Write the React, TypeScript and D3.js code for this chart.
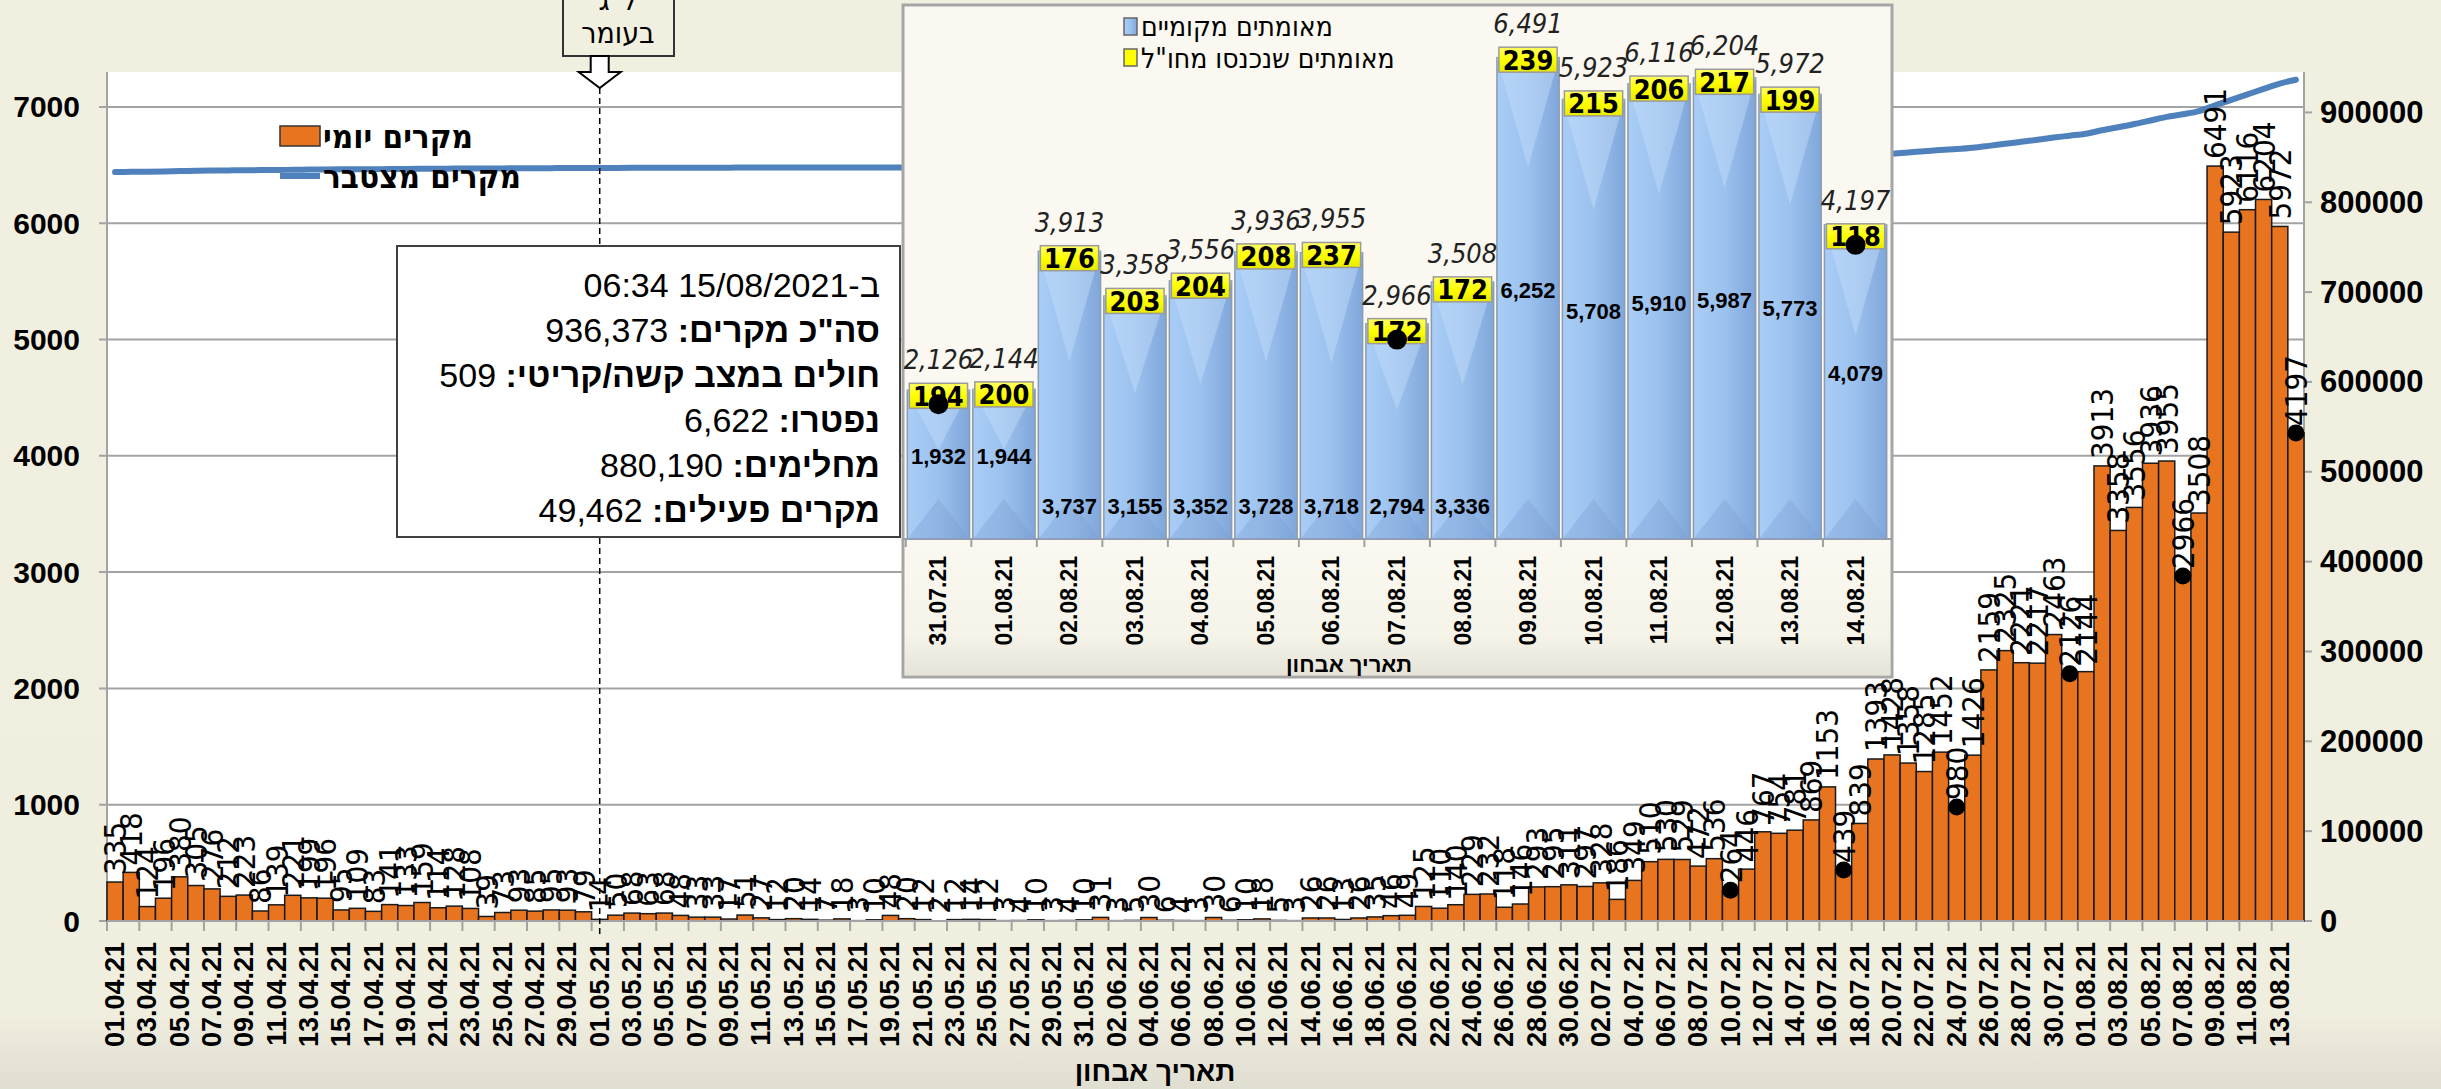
import * as d3 from "d3";

// daily confirmed cases, 01.04.21 - 14.08.21
const aprilCases = [335, 418, 124, 196, 380, 305, 276, 212, 223, 86, 139, 221, 199, 196, 95, 109, 83, 141, 133, 159, 114, 128, 108, 39, 73, 93, 85, 95, 93, 79];
const mayCases = [14, 50, 68, 63, 68, 48, 33, 33, 17, 51, 27, 12, 20, 14, 7, 18, 3, 10, 48, 20, 12, 2, 12, 14, 12, 3, 4, 10, 3, 4, 10];
const juneCases = [31, 3, 5, 30, 6, 4, 3, 30, 6, 10, 18, 5, 3, 26, 26, 13, 26, 35, 46, 49, 125, 110, 140, 229, 232, 118, 146, 293, 295, 311];
const julyCases = [297, 328, 186, 349, 510, 530, 529, 472, 536, 264, 446, 767, 754, 781, 869, 1153, 439, 839, 1393, 1428, 1358, 1285, 1452, 980, 1426, 2159, 2325, 2221, 2217, 2463, 2126];
const augustCases = [2144, 3913, 3358, 3556, 3936, 3955, 2966, 3508, 6491, 5923, 6116, 6204, 5972, 4197];
const dailyCases = [...aprilCases, ...mayCases, ...juneCases, ...julyCases, ...augustCases];

const fmtDay = d3.timeFormat("%d.%m.%y");
const dates = d3.timeDay.range(new Date(2021, 3, 1), new Date(2021, 7, 15)).map(fmtDay);

// total as of 15/08 (cumulative line ends here)
const totalCases = 936373;
const markedDays = ["10.07.21", "17.07.21", "24.07.21", "31.07.21", "07.08.21", "14.08.21"];
const lagBaomerDay = "01.05.21";

const leftTicks = [0, 1000, 2000, 3000, 4000, 5000, 6000, 7000];
const rightTicks = [0, 100000, 200000, 300000, 400000, 500000, 600000, 700000, 800000, 900000];

// inset: last 15 days split by origin
const insetDates = ["31.07.21", "01.08.21", "02.08.21", "03.08.21", "04.08.21", "05.08.21", "06.08.21", "07.08.21", "08.08.21", "09.08.21", "10.08.21", "11.08.21", "12.08.21", "13.08.21", "14.08.21"];
const localCases = [1932, 1944, 3737, 3155, 3352, 3728, 3718, 2794, 3336, 6252, 5708, 5910, 5987, 5773, 4079];
const abroadCases = [194, 200, 176, 203, 204, 208, 237, 172, 172, 239, 215, 206, 217, 199, 118];
const insetMarked = ["31.07.21", "07.08.21", "14.08.21"];

const infoLines = [
  ["", "ב-15/08/2021 06:34"],
  ["סה\"כ מקרים:", " 936,373"],
  ["חולים במצב קשה/קריטי:", " 509"],
  ["נפטרו:", " 6,622"],
  ["מחלימים:", " 880,190"],
  ["מקרים פעילים:", " 49,462"],
];

const W = 2441, H = 1089;
const PL = 107, PR = 2304, PT = 72, PB = 921;

const narrow = "'Liberation Sans Narrow', 'DejaVu Sans Condensed', 'Liberation Sans', sans-serif";
const sans = "'Liberation Sans', Arial, sans-serif";
const fmt = d3.format(",");

function Inset() {
  const X0 = 903, Y0 = 5, X1 = 1892, Y1 = 677, BASE = 539;
  const ix = d3.scaleBand<string>().domain(insetDates).range([906, 1888]).paddingInner(0.05).paddingOuter(0.02);
  const iy = d3.scaleLinear().domain([0, 7000]).range([BASE, 0]);
  const bw = ix.bandwidth();
  const rows = insetDates.map((d, i) => ({ d, local: localCases[i], abroad: abroadCases[i], total: localCases[i] + abroadCases[i] }));
  return (
    <g>
      <defs>
        <linearGradient id="blueBar" x1="0" x2="1" y1="0" y2="0">
          <stop offset="0" stopColor="#A9CDF6" />
          <stop offset="0.5" stopColor="#9BC1EE" />
          <stop offset="1" stopColor="#80A7DA" />
        </linearGradient>
        <linearGradient id="yellowBox" x1="0" x2="0" y1="0" y2="1">
          <stop offset="0" stopColor="#FFFF66" />
          <stop offset="0.5" stopColor="#FFFF00" />
          <stop offset="1" stopColor="#E8E800" />
        </linearGradient>
        <linearGradient id="insetFoot" x1="0" x2="0" y1="0" y2="1">
          <stop offset="0" stopColor="#FAF8F0" />
          <stop offset="0.7" stopColor="#F6F3E9" />
          <stop offset="1" stopColor="#E6E3D8" />
        </linearGradient>
      </defs>
      <rect x={X0} y={Y0} width={X1 - X0} height={Y1 - Y0} fill="#FAF8F0" stroke="#A6A6A6" strokeWidth={3} />
      <rect x={X0 + 2} y={BASE} width={X1 - X0 - 4} height={Y1 - BASE - 2} fill="url(#insetFoot)" />
      <line x1={X0} x2={X1} y1={BASE} y2={BASE} stroke="#A0A0A0" strokeWidth={2} />
      {insetDates.map((d) => (
        <line key={"t" + d} x1={(ix(d) ?? 0) - 1.5} x2={(ix(d) ?? 0) - 1.5} y1={BASE} y2={BASE + 8} stroke="#A0A0A0" strokeWidth={2} />
      ))}
      {rows.map((r) => {
        const x0 = ix(r.d) ?? 0;
        const top = iy(r.local);
        const h = BASE - top;
        return (
          <g key={r.d}>
            <rect x={x0} y={top} width={bw} height={h} fill="url(#blueBar)" stroke="#8C9BB0" strokeWidth={1.5} />
            <polygon points={`${x0},${top} ${x0 + bw},${top} ${x0 + bw / 2},${top + Math.min(h * 0.4, 110)}`} fill="#C6DEFA" opacity={0.45} />
            <polygon points={`${x0},${BASE} ${x0 + bw / 2},${BASE - 40} ${x0 + bw},${BASE}`} fill="#7C9FD2" opacity={0.35} />
          </g>
        );
      })}
      {rows.map((r) => {
        const x0 = ix(r.d) ?? 0;
        const c = x0 + bw / 2;
        const top = iy(r.total);
        const boxTop = top + 8;
        const lblY = r.local > 2500 && r.local < 4000 ? BASE - 33 : (iy(r.local) + BASE) / 2 - 8;
        return (
          <g key={"l" + r.d}>
            <rect x={x0 + 2} y={boxTop} width={bw - 4} height={25} fill="url(#yellowBox)" stroke="#9A9A9A" strokeWidth={1.5} />
            <text x={c} y={boxTop + 13} textAnchor="middle" dominantBaseline="central" fontFamily={narrow} fontWeight="bold" fontSize={27}>{r.abroad}</text>
            <text x={c} y={top - 6} textAnchor="middle" fontFamily={narrow} fontStyle="italic" fontSize={27} fill="#222">{fmt(r.total)}</text>
            <text x={c} y={lblY} textAnchor="middle" dominantBaseline="central" fontFamily={sans} fontWeight="bold" fontSize={22}>{fmt(r.local)}</text>
          </g>
        );
      })}
      {insetMarked.map((d) => (
        <circle key={"m" + d} cx={(ix(d) ?? 0) + bw / 2} cy={iy(localCases[insetDates.indexOf(d)] + abroadCases[insetDates.indexOf(d)]) + 29} r={10} fill="#000" />
      ))}
      {insetDates.map((d) => (
        <text key={"x" + d} transform={`translate(${(ix(d) ?? 0) + bw / 2},556) rotate(-90)`} textAnchor="end" dominantBaseline="central" fontFamily={sans} fontWeight="bold" fontSize={23}>{d}</text>
      ))}
      <text x={1349} y={664} textAnchor="middle" dominantBaseline="central" fontFamily={sans} fontWeight="bold" fontSize={22}>תאריך אבחון</text>
      <rect x={1124} y={18} width={13} height={17} fill="url(#blueBar)" stroke="#666" strokeWidth={1.5} />
      <text x={1141} y={26} dominantBaseline="central" fontFamily={narrow} fontSize={28}>מאומתים מקומיים</text>
      <rect x={1124} y={49} width={13} height={17} fill="#FFFF00" stroke="#666" strokeWidth={1.5} />
      <text x={1141} y={58} dominantBaseline="central" fontFamily={narrow} fontSize={28}>מאומתים שנכנסו מחו"ל</text>
    </g>
  );
}

export default function App() {
  const x = d3.scaleBand<string>().domain(dates).range([PL, PR]);
  const y = d3.scaleLinear().domain([0, 7300]).range([PB, PT]);
  const y2 = d3.scaleLinear().domain([0, 945000]).range([PB, PT]);
  const bw = x.bandwidth();
  const cx = (d: string) => (x(d) ?? 0) + bw / 2;

  const base = totalCases - d3.sum(dailyCases);
  const cumulative = Array.from(d3.cumsum(dailyCases), (v) => v + base);
  const linePath = d3.line<number>().x((_, i) => cx(dates[i])).y((v) => y2(v)).curve(d3.curveMonotoneX)(cumulative) ?? "";

  const lagX = cx(lagBaomerDay);

  return (
    <svg width={W} height={H} style={{ position: "absolute", left: 0, top: 0 }}>
      <defs>
        <linearGradient id="bg" x1="0" x2="0" y1="0" y2="1">
          <stop offset="0" stopColor="#F1EFE0" />
          <stop offset="0.93" stopColor="#F0EEDF" />
          <stop offset="1" stopColor="#E0DDD1" />
        </linearGradient>
      </defs>
      <rect x={0} y={0} width={W} height={H} fill="url(#bg)" />
      <rect x={PL} y={PT} width={PR - PL} height={PB - PT} fill="#FFFFFF" />

      {leftTicks.map((t) => (
        <g key={"g" + t}>
          <line x1={PL - 8} x2={PR} y1={y(t)} y2={y(t)} stroke="#A3A3A3" strokeWidth={2} />
          <text x={80} y={y(t)} textAnchor="end" dominantBaseline="central" fontFamily={sans} fontWeight="bold" fontSize={30}>{t}</text>
        </g>
      ))}
      {rightTicks.map((t) => (
        <g key={"r" + t}>
          <line x1={PR} x2={PR + 8} y1={y2(t)} y2={y2(t)} stroke="#A3A3A3" strokeWidth={2} />
          <text x={2320} y={y2(t)} textAnchor="start" dominantBaseline="central" fontFamily={sans} fontWeight="bold" fontSize={31}>{t}</text>
        </g>
      ))}
      <line x1={PL} x2={PL} y1={PT} y2={PB} stroke="#A3A3A3" strokeWidth={2} />
      <line x1={PR} x2={PR} y1={PT} y2={PB} stroke="#A3A3A3" strokeWidth={2} />

      {dates.map((d, i) => (
        <rect key={"b" + d} x={x(d)} y={y(dailyCases[i])} width={bw} height={PB - y(dailyCases[i])} fill="#E87420" stroke="#1A1A1A" strokeWidth={1.5} />
      ))}

      {dates.map((d, i) =>
        i % 2 === 0 ? (
          <line key={"tk" + d} x1={x(d)} x2={x(d)} y1={PB} y2={PB + 10} stroke="#A3A3A3" strokeWidth={2} />
        ) : null
      )}
      <line x1={PL} x2={PR} y1={PB} y2={PB} stroke="#A3A3A3" strokeWidth={2} />

      <path d={linePath} fill="none" stroke="#4F81BD" strokeWidth={6} strokeLinecap="round" />

      {markedDays.map((d) => (
        <circle key={"dot" + d} cx={cx(d)} cy={y(dailyCases[dates.indexOf(d)])} r={8.5} fill="#000" />
      ))}

      {dates.map((d, i) => (
        <text key={"v" + d} transform={`translate(${cx(d)},${y(dailyCases[i]) - 7}) rotate(-90)`} textAnchor="start" dominantBaseline="central" fontFamily={narrow} fontSize={31}>{dailyCases[i]}</text>
      ))}

      {dates.map((d, i) =>
        i % 2 === 0 ? (
          <text key={"xl" + d} transform={`translate(${cx(d)},942) rotate(-90)`} textAnchor="end" dominantBaseline="central" fontFamily={sans} fontWeight="bold" fontSize={27}>{d}</text>
        ) : null
      )}
      <text x={1155} y={1071} textAnchor="middle" dominantBaseline="central" fontFamily={sans} fontWeight="bold" fontSize={28}>תאריך אבחון</text>

      {/* legend */}
      <rect x={280} y={126} width={40} height={20} fill="#E87420" stroke="#333" strokeWidth={1.5} />
      <text x={323} y={136} dominantBaseline="central" fontFamily={narrow} fontWeight="bold" fontSize={33}>מקרים יומי</text>
      <line x1={280} x2={320} y1={176} y2={176} stroke="#4F81BD" strokeWidth={6} />
      <text x={323} y={176} dominantBaseline="central" fontFamily={narrow} fontWeight="bold" fontSize={33}>מקרים מצטבר</text>

      {/* Lag BaOmer marker */}
      <line x1={lagX} x2={lagX} y1={88} y2={936} stroke="#000" strokeWidth={1.5} strokeDasharray="6,4" />
      <rect x={563} y={-30} width={111} height={86} fill="#F1EFE0" stroke="#333" strokeWidth={2} />
      <text x={618} y={10} textAnchor="middle" fontFamily={narrow} fontSize={30}>ל"ג</text>
      <text x={618} y={43} textAnchor="middle" fontFamily={narrow} fontSize={30}>בעומר</text>
      <polygon
        points={`${lagX - 9},56 ${lagX + 9},56 ${lagX + 9},72 ${lagX + 21},72 ${lagX},88 ${lagX - 21},72 ${lagX - 9},72`}
        fill="#FFFFFF" stroke="#000" strokeWidth={2} />

      {/* info box */}
      <rect x={397} y={246} width={503} height={291} fill="#FFFFFF" stroke="#404040" strokeWidth={2} />
      {infoLines.map((ln, i) => (
        <text key={"info" + i} x={880} y={285 + i * 45} direction="rtl" textAnchor="start" dominantBaseline="central" fontFamily={sans} fontSize={34}>
          {ln[0] ? <tspan fontWeight="bold">{ln[0]}</tspan> : null}
          <tspan>{ln[1]}</tspan>
        </text>
      ))}

      <Inset />
    </svg>
  );
}
